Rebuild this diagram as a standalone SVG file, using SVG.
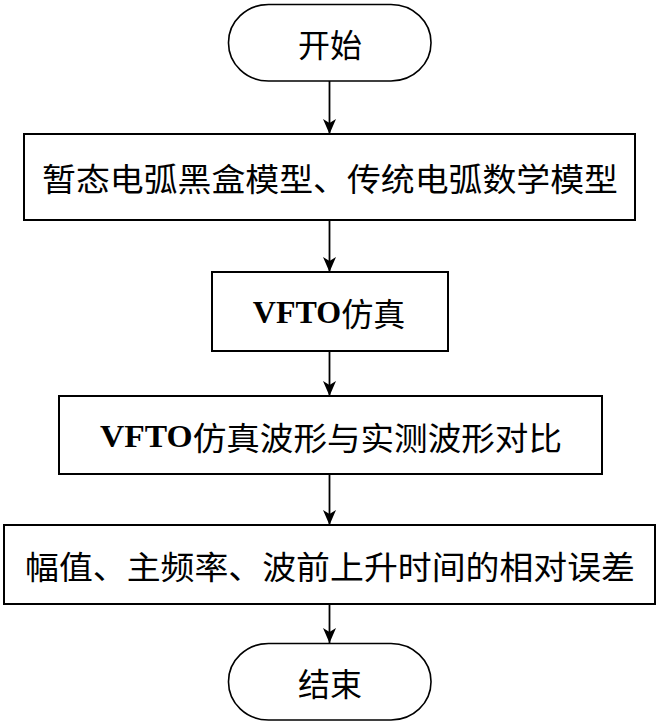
<svg xmlns="http://www.w3.org/2000/svg" width="662" height="726" viewBox="0 0 662 726">
<style>
.box{fill:#fff;stroke:#000;stroke-width:2}
.term{fill:#fff;stroke:#000;stroke-width:1.6}
.t{font-family:"Noto Sans CJK SC","Noto Sans",sans-serif;font-size:32px;fill:#000;text-anchor:middle;dominant-baseline:central}
.b{font-family:"Liberation Serif",serif;font-weight:bold}
.c{stroke:#000;stroke-width:1.8;fill:none;marker-end:url(#ah)}
</style>
<defs>
<marker id="ah" markerWidth="16" markerHeight="14" refX="15" refY="7" orient="auto" markerUnits="userSpaceOnUse" viewBox="0 0 16 14">
<path d="M15,7 L0,0.5 L4,7 L0,13.5 Z" fill="#000"/>
</marker>
</defs>
<rect width="662" height="726" fill="#fff"/>
<g id="connectors">
<line class="c" x1="329.5" y1="81" x2="329.5" y2="134"/>
<line class="c" x1="329.5" y1="220" x2="329.5" y2="272"/>
<line class="c" x1="329.5" y1="351" x2="329.5" y2="396"/>
<line class="c" x1="329.5" y1="474" x2="329.5" y2="525"/>
<line class="c" x1="329.5" y1="604" x2="329.5" y2="643"/>
</g>
<g id="start">
<rect class="term" x="228.5" y="4.5" width="202.5" height="76.5" rx="40" ry="38"/>
<text class="t" x="330" y="43">开始</text>
</g>
<g id="n1">
<rect class="box" x="24" y="134" width="611" height="86"/>
<text class="t" x="330" y="177" textLength="576" lengthAdjust="spacingAndGlyphs">暂态电弧黑盒模型、传统电弧数学模型</text>
</g>
<g id="n2">
<rect class="box" x="212" y="272" width="236" height="79"/>
<text class="t" x="329" y="312"><tspan class="b">VFTO</tspan>仿真</text>
</g>
<g id="n3">
<rect class="box" x="59" y="396" width="543" height="78"/>
<text class="t" x="331" y="436" textLength="462" lengthAdjust="spacingAndGlyphs"><tspan class="b">VFTO</tspan>仿真波形与实测波形对比</text>
</g>
<g id="n4">
<rect class="box" x="4" y="525" width="651" height="79"/>
<text class="t" x="330" y="565" textLength="610" lengthAdjust="spacingAndGlyphs">幅值、主频率、波前上升时间的相对误差</text>
</g>
<g id="end">
<rect class="term" x="228.5" y="643.5" width="202.5" height="76.5" rx="40" ry="38"/>
<text class="t" x="330" y="682">结束</text>
</g>
</svg>
